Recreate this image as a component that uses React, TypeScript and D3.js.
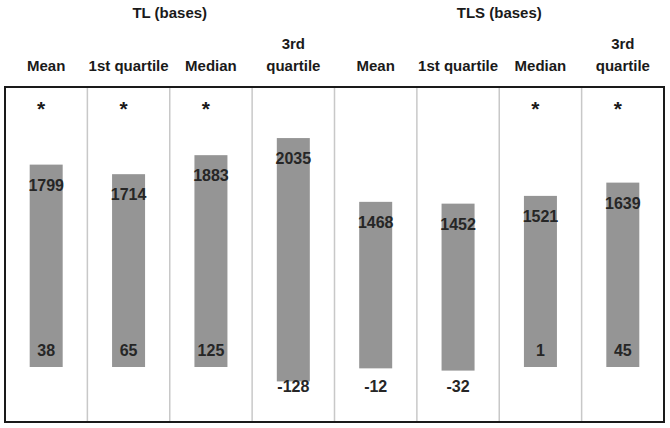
import React, { useEffect, useRef } from 'react';
import * as d3 from 'd3';

// data
const groups = ['TL (bases)', 'TLS (bases)'];
const statLines = [['Mean'], ['1st quartile'], ['Median'], ['3rd', 'quartile']];
const highValues = [1799, 1714, 1883, 2035, 1468, 1452, 1521, 1639];
const lowValues = [38, 65, 125, -128, -12, -32, 1, 45];
const starred = [true, true, true, false, false, false, true, true];

const App = () => {
    const ref = useRef<SVGSVGElement>(null);

    const width = 670;
    const height = 428;
    // frame
    const frame_x0 = 5;
    const frame_x1 = 664;
    const frame_y0 = 87;
    const frame_y1 = 422;
    const bar_width = 33;

    useEffect(() => {
        const svg = d3.select(ref.current);
        svg.selectAll('*').remove();

        const cols = d3.range(highValues.length);
        const nStats = statLines.length;

        const xScale = d3.scaleBand<number>()
            .domain(cols)
            .range([frame_x0, frame_x1])
            .padding(0);

        const yScale = d3.scaleLinear()
            .domain([0, 2000])
            .range([367, 142]);

        const font = '"Liberation Sans", Arial, sans-serif';
        const cx = (i: number) => xScale(i)! + xScale.bandwidth() / 2;

        // group titles
        svg.selectAll('.group')
            .data(groups)
            .enter().append('text')
            .attr('x', (d, g) => (xScale(g * nStats)! + xScale(g * nStats + nStats - 1)! + xScale.bandwidth()) / 2)
            .attr('y', 18)
            .attr('text-anchor', 'middle')
            .style('font-family', font)
            .style('font-size', '15px')
            .style('font-weight', 'bold')
            .attr('fill', '#1a1a1a')
            .text(d => d);

        // column headers
        cols.forEach(i => {
            const lines = statLines[i % nStats];
            lines.forEach((line, k) => {
                svg.append('text')
                    .attr('x', cx(i))
                    .attr('y', 71 - (lines.length - 1 - k) * 22)
                    .attr('text-anchor', 'middle')
                    .style('font-family', font)
                    .style('font-size', '15px')
                    .style('font-weight', 'bold')
                    .attr('fill', '#1a1a1a')
                    .text(line);
            });
        });

        // dividers
        svg.selectAll('.divider')
            .data(cols.slice(1))
            .enter().append('line')
            .attr('x1', d => xScale(d)!)
            .attr('x2', d => xScale(d)!)
            .attr('y1', frame_y0)
            .attr('y2', frame_y1)
            .attr('stroke', '#c8c8c8')
            .attr('stroke-width', 1.5);

        // bars
        svg.selectAll('.bar')
            .data(cols)
            .enter().append('rect')
            .attr('x', i => cx(i) - bar_width / 2)
            .attr('y', i => yScale(highValues[i]))
            .attr('width', bar_width)
            .attr('height', i => yScale(Math.min(0, lowValues[i])) - yScale(highValues[i]))
            .attr('fill', '#959595');

        // high labels
        svg.selectAll('.high')
            .data(cols)
            .enter().append('text')
            .attr('x', i => cx(i))
            .attr('y', i => yScale(highValues[i]) + 26)
            .attr('text-anchor', 'middle')
            .style('font-family', font)
            .style('font-size', '16px')
            .style('font-weight', 'bold')
            .attr('fill', '#262626')
            .text(i => highValues[i]);

        // low labels
        svg.selectAll('.low')
            .data(cols)
            .enter().append('text')
            .attr('x', i => cx(i))
            .attr('y', i => lowValues[i] >= 0 ? yScale(0) - 11 : yScale(0) + 25)
            .attr('text-anchor', 'middle')
            .style('font-family', font)
            .style('font-size', '16px')
            .style('font-weight', 'bold')
            .attr('fill', '#262626')
            .text(i => lowValues[i]);

        // stars
        svg.selectAll('.star')
            .data(cols.filter(i => starred[i]))
            .enter().append('text')
            .attr('x', i => cx(i) - 5)
            .attr('y', 116)
            .attr('text-anchor', 'middle')
            .style('font-family', font)
            .style('font-size', '21px')
            .style('font-weight', 'bold')
            .attr('fill', '#1a1a1a')
            .text('*');

        // frame
        svg.append('rect')
            .attr('x', frame_x0)
            .attr('y', frame_y0)
            .attr('width', frame_x1 - frame_x0)
            .attr('height', frame_y1 - frame_y0)
            .attr('fill', 'none')
            .attr('stroke', '#1a1a1a')
            .attr('stroke-width', 2);
    }, []);

    return (
        <svg ref={ref} width={width} height={height}
            style={{ position: 'absolute', left: 0, top: 0, background: '#fff' }}></svg>
    );
};

export default App;
